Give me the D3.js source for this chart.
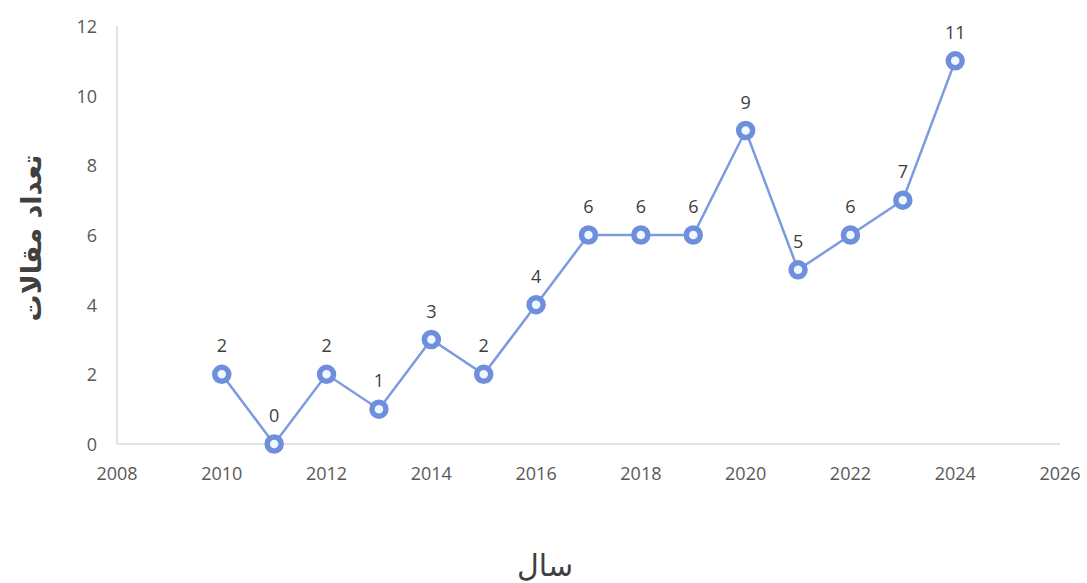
<!DOCTYPE html>
<html>
<head>
<meta charset="utf-8">
<style>
  body { margin: 0; background: #fff; }
  svg text { font-family: "Open Sans", sans-serif; }
</style>
</head>
<body>
<div id="chart"></div>
<script src="https://d3js.org/d3.v7.min.js"></script>
<script>
// data
var years = [2010, 2011, 2012, 2013, 2014, 2015, 2016, 2017, 2018, 2019, 2020, 2021, 2022, 2023, 2024];
var counts = [2, 0, 2, 1, 3, 2, 4, 6, 6, 6, 9, 5, 6, 7, 11];
var xTicks = [2008, 2010, 2012, 2014, 2016, 2018, 2020, 2022, 2024, 2026];
var yTicks = [0, 2, 4, 6, 8, 10, 12];

var W = 1087, H = 583;
var margin = {top: 26, right: 27, bottom: 139, left: 117};

var svg = d3.select("#chart").append("svg")
    .attr("width", W)
    .attr("height", H);

var x = d3.scaleLinear().domain([2008, 2026]).range([margin.left, W - margin.right]);
var y = d3.scaleLinear().domain([0, 12]).range([H - margin.bottom, margin.top]);

// axis lines
svg.append("line")
    .attr("x1", x(2008)).attr("x2", x(2026))
    .attr("y1", y(0)).attr("y2", y(0))
    .attr("stroke", "#d9d9d9").attr("stroke-width", 1.5);
svg.append("line")
    .attr("x1", x(2008)).attr("x2", x(2008))
    .attr("y1", y(0)).attr("y2", y(12))
    .attr("stroke", "#d9d9d9").attr("stroke-width", 1.5);

// tick labels
svg.selectAll(".xt").data(xTicks).enter().append("text")
    .attr("x", function (d) { return x(d); })
    .attr("y", y(0) + 36)
    .attr("text-anchor", "middle")
    .attr("fill", "#595959")
    .style("font-size", "18px")
    .text(function (d) { return d; });

svg.selectAll(".yt").data(yTicks).enter().append("text")
    .attr("x", x(2008) - 20)
    .attr("y", function (d) { return y(d) + 7; })
    .attr("text-anchor", "end")
    .attr("fill", "#595959")
    .style("font-size", "18px")
    .text(function (d) { return d; });

var pts = years.map(function (d, i) { return {year: d, n: counts[i]}; });

var line = d3.line()
    .x(function (d) { return x(d.year); })
    .y(function (d) { return y(d.n); });

svg.append("path")
    .datum(pts)
    .attr("d", line)
    .attr("fill", "none")
    .attr("stroke", "#7b9ae0")
    .attr("stroke-width", 2.5);

svg.selectAll(".pt").data(pts).enter().append("circle")
    .attr("cx", function (d) { return x(d.year); })
    .attr("cy", function (d) { return y(d.n); })
    .attr("r", 7)
    .attr("fill", "#eef8ff")
    .attr("stroke", "#6f8fdc")
    .attr("stroke-width", 5.5);

// value labels above points
svg.selectAll(".lbl").data(pts).enter().append("text")
    .attr("x", function (d) { return x(d.year); })
    .attr("y", function (d) { return y(d.n) - 22; })
    .attr("text-anchor", "middle")
    .attr("fill", "#404040")
    .style("font-size", "18px")
    .text(function (d) { return d.n; });

// axis titles
svg.append("text")
    .attr("transform", "translate(41,238) rotate(-90)")
    .attr("text-anchor", "middle")
    .attr("fill", "#404040")
    .style("font-family", '"DejaVu Sans", sans-serif')
    .style("font-size", "27px")
    .style("font-weight", "bold")
    .text("تعداد مقالات");

svg.append("text")
    .attr("x", 545)
    .attr("y", 576)
    .attr("text-anchor", "middle")
    .attr("fill", "#404040")
    .style("font-family", '"DejaVu Sans", sans-serif')
    .style("font-size", "30px")
    .text("سال");
</script>
</body>
</html>
